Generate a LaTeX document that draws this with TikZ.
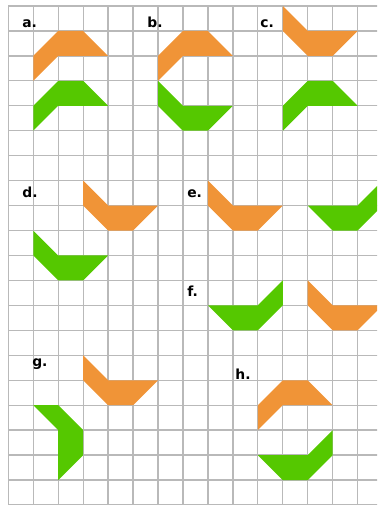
\documentclass[tikz,border=0pt]{standalone}
\usepackage{fontspec}
\setmainfont{DejaVu Sans}
\usepackage{tikz}
\definecolor{pieceorange}{RGB}{240,148,55}
\definecolor{piecegreen}{RGB}{85,200,0}
\definecolor{gridgray}{RGB}{185,185,185}

\begin{document}
\begin{tikzpicture}[x=0.6cm, y=0.6cm,
    every node/.style={font=\fontsize{9.5}{11}\selectfont\bfseries, anchor=base west, inner sep=0pt},
    gridline/.style={draw=gridgray, line width=0.9pt},
    orangepiece/.style={fill=pieceorange},
    greenpiece/.style={fill=piecegreen}]
        \useasboundingbox (-0.333,0.24) rectangle (14.78,-20.0);
        \clip (-0.333,0.24) rectangle (14.78,-20.0);
        % squared paper
        \foreach \i in {0,...,15} \draw[gridline] (\i,0) -- (\i,-21);
        \foreach \j in {0,...,20} \draw[gridline] (0,-\j) -- (15,-\j);
        % a.
        \node (la) at (0.55,-0.88) {a.};
        \fill[orangepiece] (2,-1) -- (3,-1) -- (4,-2) -- (2,-2) -- (1,-3) -- (1,-2) -- cycle;
        \fill[greenpiece] (2,-3) -- (3,-3) -- (4,-4) -- (2,-4) -- (1,-5) -- (1,-4) -- cycle;
        % b.
        \node (lb) at (5.56,-0.88) {b.};
        \fill[orangepiece] (7,-1) -- (8,-1) -- (9,-2) -- (7,-2) -- (6,-3) -- (6,-2) -- cycle;
        \fill[greenpiece] (6,-3) -- (7,-4) -- (9,-4) -- (8,-5) -- (7,-5) -- (6,-4) -- cycle;
        % c.
        \node (lc) at (10.09,-0.88) {c.};
        \fill[orangepiece] (11,0) -- (12,-1) -- (14,-1) -- (13,-2) -- (12,-2) -- (11,-1) -- cycle;
        \fill[greenpiece] (12,-3) -- (13,-3) -- (14,-4) -- (12,-4) -- (11,-5) -- (11,-4) -- cycle;
        % d.
        \node (ld) at (0.55,-7.66) {d.};
        \fill[orangepiece] (3,-7) -- (4,-8) -- (6,-8) -- (5,-9) -- (4,-9) -- (3,-8) -- cycle;
        \fill[greenpiece] (1,-9) -- (2,-10) -- (4,-10) -- (3,-11) -- (2,-11) -- (1,-10) -- cycle;
        % e.
        \node (le) at (7.16,-7.66) {e.};
        \fill[orangepiece] (8,-7) -- (9,-8) -- (11,-8) -- (10,-9) -- (9,-9) -- (8,-8) -- cycle;
        \fill[greenpiece] (15,-7) -- (14,-8) -- (12,-8) -- (13,-9) -- (14,-9) -- (15,-8) -- cycle;
        % f.
        \node (lf) at (7.16,-11.66) {f.};
        \fill[greenpiece] (8,-12) -- (9,-13) -- (10,-13) -- (11,-12) -- (11,-11) -- (10,-12) -- cycle;
        \fill[orangepiece] (12,-11) -- (13,-12) -- (15,-12) -- (14,-13) -- (13,-13) -- (12,-12) -- cycle;
        % g.
        \node (lg) at (0.95,-14.43) {g.};
        \fill[orangepiece] (3,-14) -- (4,-15) -- (6,-15) -- (5,-16) -- (4,-16) -- (3,-15) -- cycle;
        \fill[greenpiece] (1,-16) -- (2,-16) -- (3,-17) -- (3,-18) -- (2,-19) -- (2,-17) -- cycle;
        % h.
        \node (lh) at (9.09,-14.98) {h.};
        \fill[orangepiece] (11,-15) -- (12,-15) -- (13,-16) -- (11,-16) -- (10,-17) -- (10,-16) -- cycle;
        \fill[greenpiece] (13,-17) -- (12,-18) -- (10,-18) -- (11,-19) -- (12,-19) -- (13,-18) -- cycle;
\end{tikzpicture}
\end{document}
